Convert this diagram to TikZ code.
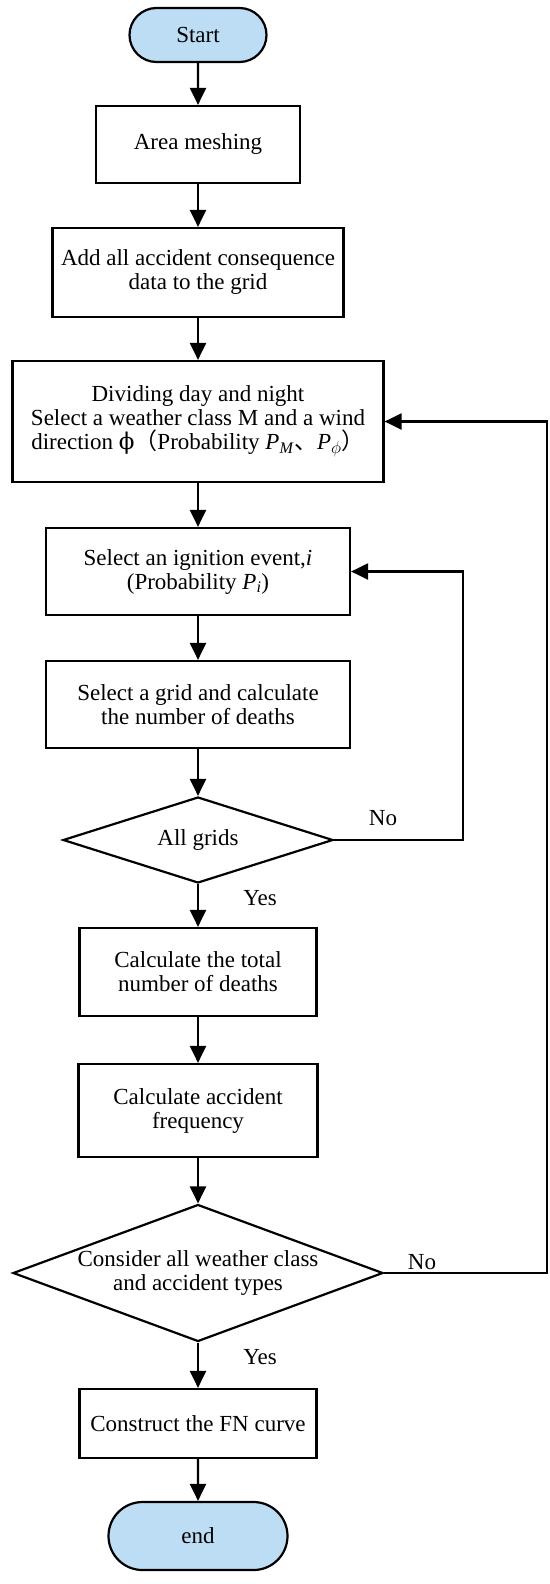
\documentclass[tikz,border=0pt]{standalone}
\usepackage{fontspec}
\setmainfont{Liberation Serif}
\newfontfamily\cjk{Noto Sans CJK SC}
\newfontfamily\dvs{DejaVu Serif}
\usetikzlibrary{shapes.geometric,shapes.misc,arrows.meta}
\definecolor{pillblue}{RGB}{189,221,244}
\begin{document}
\begin{tikzpicture}[x=1bp,y=-1bp,
  fcbase/.style={draw=black, line width=2.2bp, inner sep=0pt, align=center, font=\fontsize{23bp}{24bp}\selectfont},
  term/.style={fcbase, rounded rectangle, fill=pillblue},
  proc/.style={fcbase, rectangle},
  dec/.style={fcbase, diamond},
  arr/.style={line width=2.2bp, -{Triangle[width=16bp,length=17bp]}},
  lab/.style={font=\fontsize{23bp}{24bp}\selectfont, inner sep=0pt}]
\useasboundingbox (0,0) rectangle (550,1584);

\node[term, minimum width=137bp, minimum height=54bp] (start) at (198,35) {Start};
\node[proc, minimum width=204bp, minimum height=77bp] (mesh) at (198,144.5) {Area meshing};
\node[proc, minimum width=291bp, minimum height=89bp] (add) at (198,272.5) {Add all accident consequence\\data to the grid};
\node[proc, minimum width=371bp, minimum height=121bp] (div) at (198,421.5) {Dividing day and night\\Select a weather class M and a wind\\direction {\dvs ϕ}{\cjk （}Probability \textit{P}\textsubscript{\textit{M}}{\cjk 、}\textit{P}\textsubscript{$\phi$}{\cjk ）}};
\node[proc, minimum width=304bp, minimum height=87bp] (ign) at (198,571.5) {Select an ignition event,\textit{i}\\(Probability \textit{P}\textsubscript{\textit{i}})};
\node[proc, minimum width=304bp, minimum height=87bp] (grid) at (198,704.5) {Select a grid and calculate\\the number of deaths};
\node[dec, minimum width=270bp, minimum height=86bp, aspect=3.14] (d1) at (198,840) {All grids};
\node[proc, minimum width=237bp, minimum height=88bp] (tot) at (198,972) {Calculate the total\\number of deaths};
\node[proc, minimum width=239bp, minimum height=93bp] (freq) at (198,1110.5) {Calculate accident\\frequency};
\node[dec, minimum width=370bp, minimum height=137bp, aspect=2.7] (d2) at (198,1273) {Consider all weather class\\and accident types};
\node[proc, minimum width=237bp, minimum height=69bp] (fn) at (198,1423.5) {Construct the FN curve};
\node[term, minimum width=179bp, minimum height=68bp] (end) at (198,1536) {end};

\draw[arr] (start) -- (mesh);
\draw[arr] (mesh) -- (add);
\draw[arr] (add) -- (div);
\draw[arr] (div) -- (ign);
\draw[arr] (ign) -- (grid);
\draw[arr] (grid) -- (d1);
\draw[arr] (d1) -- (tot);
\draw[arr] (tot) -- (freq);
\draw[arr] (freq) -- (d2);
\draw[arr] (d2) -- (fn);
\draw[arr] (fn) -- (end);

\draw[arr] (d1.east) -- ++(129,0) |- (ign.east);
\draw[arr] (d2.east) -- ++(163,0) |- (div.east);

\node[lab] (no1) at (383,818) {No};
\node[lab] (no2) at (422,1262) {No};
\node[lab] (yes1) at (260,898) {Yes};
\node[lab] (yes2) at (260,1357) {Yes};
\end{tikzpicture}
\end{document}
